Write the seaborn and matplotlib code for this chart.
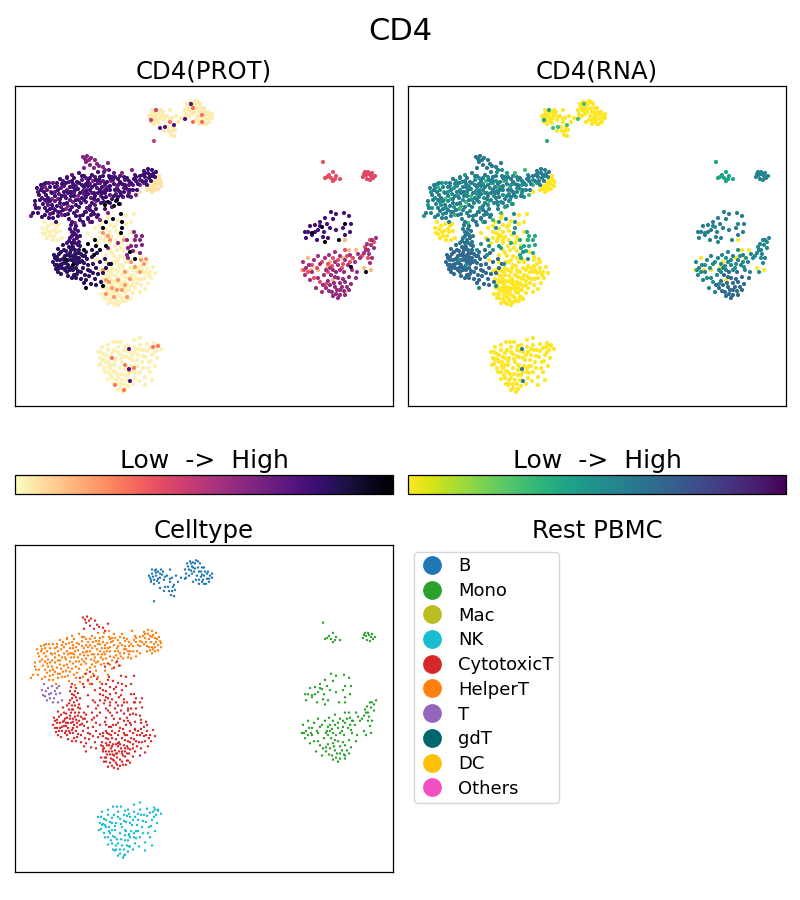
import matplotlib
matplotlib.use("Agg")
import matplotlib.pyplot as plt
from matplotlib.cm import ScalarMappable
from matplotlib.colors import Normalize
from matplotlib.lines import Line2D
import pandas as pd
import seaborn as sns

LEGEND_NAMES = ["B", "Mono", "Mac", "NK", "CytotoxicT", "HelperT", "T", "gdT", "DC", "Others"]
LEGEND_COLORS = ["#1f77b4", "#2ca02c", "#bcbd22", "#17becf", "#d62728", "#ff7f0e", "#9467bd", "#00666e", "#ffc107", "#f24fc2"]

# Embedding positions; (umap1, umap2) per cell group
B_PALE = [(150,118),(152,114),(154,120),(156,116),(158,112),(160,118),(162,115),(164,120),(157,121),(153,117),(159,123),(163,112),(167,116),(155,111),(161,110),(151,122),(170,110),(172,118),(176,116),(178,122),(172,131),(168,127),(164,131),(171,135),(175,130),(170,119),(181,118),(174,136),(186,114),(187,104),(190,102),(192,107),(195,104),(198,108),(194,112),(197,116),(189,110),(201,112),(204,116),(207,119),(210,116),(203,120),(206,124),(200,104),(204,108),(208,112),(212,114),(199,120),(196,101),(192,114),(188,107),(185,110),(199,124),(209,122),
          (149,116),(152,110),(156,113),(160,114),(154,124),(158,119),(165,117),(191,111),(195,109),(199,112),(202,108),(205,112),(209,119),(212,118),(201,117),(196,120),(204,124),(207,114),(193,103),(198,102),(186,118),(189,116),(169,131),(173,127)]
B_ORANGE = [(193,108),(202,115),(193,122),(202,122),(170,122)]
B_DARK = [(160,128),(174,125),(185,119),(191,104),(165,127)]
B_GREEN = [(154,141),(151,120),(156,110)]

HELPER_A = [(33,213),(36,208),(35,201),(39,195),(41,185),(46,183),(50,187),(44,192),(48,198),(43,204),(38,213),(42,217),(47,211),(52,205),(55,196),(58,190),(62,184),(60,179),(66,183),(70,187),(64,192),(60,199),(57,206),(53,213),(49,218),(58,216),(63,210),(67,203),(71,196),(75,190),(79,183),(74,178),(79,173),(84,176),(88,181),(84,187),(80,193),(76,200),(72,207),(68,214),(74,213),(79,207),(84,200),(88,194),(92,187),(96,180),(92,175),(98,172),(103,176),(107,182),(102,187),(98,193),(94,199),(90,206),(85,212),(91,215),(96,209),(101,203),(106,197),(110,190),(114,184),(112,177),(118,179),(122,184),(118,190),(114,196),(110,203),(116,201),(121,195),(126,188),(131,183),(127,178),(134,179),(138,184),(133,190),(128,196),(140,176),(144,171),(148,169),(152,170),(156,172),(150,175),(145,177),(151,181),(147,185),(142,181),(155,177),(88,219),(80,220),(69,219),(56,222),(98,215),(105,209),(103,198),(109,176),(73,184),(55,187),(52,193),(40,200),(37,188),(45,215),(64,204),(82,198),(94,193),(124,192),(137,190),(99,180),
            (41,190),(46,195),(50,201),(45,208),(50,209),(55,210),(60,203),(62,196),(68,193),(73,187),(77,182),(82,176),(86,184),(90,178),(95,185),(100,177),(105,184),(110,178),(115,177),(120,182),(124,177),(129,181),(136,181),(143,175),(148,173),(153,174),(149,178),(145,173),(66,198),(70,192),(74,196),(78,189),(82,185),(86,191),(90,190),(95,196),(100,190),(105,193),(110,186),(115,190),(120,192),(125,185),(130,190),(70,210),(76,205),(81,203),(86,197),(92,203),(98,200),(104,202),(112,199),(118,197),(93,212),(83,215),(76,216),(60,212),(53,218),(45,200),(67,178),(72,181),(57,183),(136,177),(152,176),(146,181),(107,190),(102,193),(88,186),(65,215)]
HELPER_B = [(38,192),(42,188),(47,190),(53,183),(57,186),(63,181),(67,177),(72,175),(76,186),(82,180),(86,178),(90,184),(95,177),(100,183),(104,172),(109,170),(114,173),(120,176),(125,180),(129,185),(135,175),(123,197),(112,207),(101,196),(95,205),(87,208),(77,211),(70,200),(61,207),(55,201),(48,205),(42,198),(35,205),(31,216),(39,208),(50,214),(65,196),(72,192),(83,191),(91,198),(104,191),(116,194),(131,197),(144,183),(110,195),(97,188),(86,202),(59,194),(67,190),
            (44,184),(49,183),(55,192),(61,188),(69,182),(74,193),(79,200),(84,194),(92,193),(98,183),(103,181),(108,187),(113,180),(118,185),(124,188),(129,193),(133,185),(140,180),(58,212),(53,208),(47,202),(64,186)]
HELPER_C = [(45,187),(51,192),(58,199),(66,209),(73,202),(62,215),(78,196),(87,190),(93,181),(105,187),(117,187),(128,190),(136,195),(120,204),(108,213),(100,220),(90,222),(75,223),(122,173),(132,170),(140,185),(52,199),(68,206),(96,201),(111,181)]
HELPER_END = [(152,186),(155,190),(158,184),(160,180),(157,178),(154,183),(150,189),(147,190),(158,189),(161,186),(152,192),(140,192),(156,181),(153,188),(149,186),(159,176),(161,182),(155,186)]

CYTO_TIP = [(83,157),(87,156),(91,158),(95,160),(86,162),(90,165),(94,168),(99,166),(103,167),(84,168),(108,163),(105,170),(85,159),(89,160),(97,164)]
CYTO_COLUMN = [(72,222),(76,226),(70,229),(74,233),(78,231),(72,236),(77,238),(69,241),(75,243),(80,236),(73,247),(67,243),(84,225),(88,218),(92,222),(86,212),(90,210),(94,214),(97,217),(80,216),(83,222),(79,242),(71,225),(75,229),(72,232),(76,235),(70,238),(74,240),(78,245)]
BLOB_A = [(53,262),(55,258),(57,265),(59,254),(60,260),(62,268),(64,250),(65,256),(66,263),(67,272),(69,247),(70,253),(71,260),(72,267),(74,275),(75,250),(76,257),(77,264),(78,271),(80,246),(81,254),(82,261),(83,268),(85,275),(86,252),(87,259),(88,265),(90,271),(92,257),(93,264),(95,279),(98,274),(101,282),(84,283),(76,278),(68,276),(61,274),(56,269),(58,249),(63,245),(72,243),(96,268),(100,262),(105,259),(109,264),(92,250),(97,253),(60,265),(63,259),(67,255),(74,262),(79,258),(83,256),(70,270),(76,268),(68,265),(73,256),(64,263),(66,268),(71,250),(78,253),(84,263),(89,276),(81,279),(91,284),(96,285),(106,268),(103,273),(55,265),(58,272),
         (54,255),(57,260),(61,252),(64,258),(68,260),(70,256),(73,259),(75,254),(77,260),(80,262),(62,264),(65,270),(69,268),(73,270),(77,274),(81,272),(59,268),(57,257),(66,251),(72,247),(79,250),(85,256),(88,270),(93,273),(86,280),(72,278)]
CYTO_BLACK = [(95,240),(103,228),(106,222),(113,219),(121,214),(119,204),(114,206),(108,202),(117,200),(105,205),(122,228),(121,233),(122,222),(100,250),(94,255),(106,246),(96,246),(130,252),(135,259),(88,244),(111,264),(84,250),(86,288),(103,286),(66,260),(73,265)]
CYTO_PALE = [(90,222),(95,228),(100,226),(106,229),(110,225),(116,231),(112,237),(106,235),(100,232),(93,238),(88,233),(98,243),(104,241),(110,243),(116,240),(122,243),(117,250),(110,250),(114,256),(120,256),(126,262),(120,265),(112,268),(106,262),(106,275),(112,275),(118,272),(124,270),(130,268),(135,266),(141,266),(147,268),(150,272),(144,273),(137,272),(131,275),(125,277),(119,279),(113,281),(107,282),(102,279),(103,288),(109,288),(115,287),(121,285),(127,283),(133,281),(139,279),(145,278),(151,278),(148,283),(141,285),(135,288),(129,290),(123,292),(117,294),(111,295),(105,294),(101,294),(110,299),(116,299),(122,298),(128,297),(133,293),(120,296),(113,291),(125,288),(118,283),(109,271),(100,271),(116,262),(130,260),(124,251),(128,246),(134,240),(131,232),(126,224),(118,221),(109,215),(126,215),(134,214),(131,222),(106,255),(96,260),(136,252),(141,257),(147,262),(153,267),(155,273),(110,279),(122,275),(140,292),(145,289),(128,278),(134,276),(116,276),(106,298),(112,302),(120,302),(103,283),(107,270),(113,262),(121,248),
            (104,285),(107,291),(111,285),(114,292),(116,290),(119,288),(122,288),(125,293),(127,290),(130,286),(133,285),(137,283),(110,291),(113,296),(117,301),(108,303),(114,304),(118,305),(123,301),(126,301),(130,299),(104,298),(106,288),(112,283),(116,281),(120,281),(124,282),(128,285),(108,276),(111,272),(115,270),(119,268),(123,266),(127,272),(133,270),(138,268),(142,270),(146,272),(149,275),(136,278),(142,279),(105,238),(110,232),(114,227),(119,235),(124,237),(102,222),(108,218),(116,225),(100,238),(115,246),(112,253),(118,260),(124,258)]
CYTO_ORANGE = [(103,270),(109,282),(118,280),(112,288),(122,290),(125,285),(127,297),(106,294),(114,297),(130,279),(135,267),(141,260),(146,259),(144,264),(131,262),(103,233),(108,236),(110,240),(124,240),(140,272),(125,272),(117,290),(106,280)]
CYTO_PURPLE = [(131,246),(135,240),(140,240),(142,245),(136,246),(140,253),(133,251),(127,240),(128,248),(136,236),(127,255),(142,236),(134,232),(118,243),(108,248),(128,258)]

NK_PALE = [(98,352),(100,358),(102,347),(104,354),(106,362),(108,350),(110,357),(112,365),(114,350),(116,358),(118,347),(120,354),(122,362),(124,350),(126,357),(128,345),(130,352),(132,360),(134,347),(136,366),(138,355),(140,345),(142,362),(144,350),(146,357),(148,368),(150,348),(152,355),(154,343),(156,350),(158,345),(161,349),(134,340),(140,338),(104,368),(108,372),(112,378),(116,384),(120,388),(124,384),(110,368),(115,372),(120,368),(125,375),(130,372),(135,378),(140,372),(145,377),(150,372),(155,366),(118,378),(123,392),(128,386),(133,384),(126,366),(131,366),(113,384),(118,390),(139,381),(143,368),(105,360),(113,342),(121,342),(99,365),(147,344),(157,358),(152,380),(137,360),(145,385),(127,380),(115,365),(135,352),(141,350),(149,362),(108,379),(102,360),
          (101,352),(103,359),(106,355),(109,362),(112,353),(115,361),(118,352),(121,359),(124,356),(127,351),(130,358),(133,355),(101,364),(105,372),(109,366),(113,371),(117,374),(121,374),(125,370),(128,375),(122,380),(116,380),(111,375),(120,384),(125,389),(129,381),(134,372),(138,366),(143,356),(147,351),(151,361),(154,352),(155,345),(108,345),(117,342),(125,346),(138,349),(136,373)]
NK_SPECK = [(112,358),(125,365),(129,370),(134,368),(115,385),(124,390),(153,347),(158,346)]
NK_DARK = [(129,349),(129,369),(130,381)]

MONO_LOW = [(334,283),(338,278),(332,292),(337,290),(342,287),(345,282),(328,281),(331,275),(340,295),(345,295),(349,290),(351,284),(336,272),(344,272),(349,277),(356,278),(326,288),(338,298),(330,285),(340,283),(335,287),(340,290),(344,291),(347,287),(333,296),(329,291),(323,285),(336,294),(343,279),(335,277)]
MONO_UPPER = [(305,232),(310,226),(315,225),(320,222),(325,218),(331,212),(336,214),(344,213),(349,216),(306,238),(312,235),(318,230),(324,232),(330,228),(323,237),(317,240),(328,238),(336,230),(343,228),(351,224),(350,232),(345,235),(308,232),(315,232),(320,226),(327,224),(333,219)]
MONO_BLACK = [(312,233),(325,242),(339,240),(345,224),(351,267),(322,227),(366,272)]
MONO_MID = [(303,262),(306,268),(309,265),(314,260),(320,264),(325,258),(330,268),(335,262),(340,256),(345,260),(350,255),(355,262),(360,258),(364,253),(368,250),(371,245),(376,238),(372,240),(367,244),(366,250),(369,254),(372,258),(305,275),(312,272),(318,278),(324,275),(329,255),(338,265),(352,270),(358,254),(348,265),(335,252),(318,256),(310,280),(316,288),(322,292),(326,270),(333,270),(340,270),(357,272),(374,248),(370,263)]
MONO_RED = [(312,265),(317,268),(322,262),(328,264),(333,258),(338,260),(343,264),(347,256),(353,258),(362,256),(365,247),(370,240),(374,242),(308,272),(314,278),(320,282),(326,284),(332,266),(345,250),(350,262),(342,268),(304,270),(368,258),(328,272)]
MONO_PALE = [(308,258),(311,270),(318,270),(330,262),(343,258),(349,250),(352,258),(356,250),(364,268),(345,240),(327,268),(345,292),(333,280),(302,270),(371,270)]
MONO_SMALL_A = [(323,162),(325,178),(329,175),(333,181),(336,176),(340,179),(333,172),(327,177),(331,178),(335,179)]
MONO_SMALL_B = [(363,177),(365,172),(367,179),(369,174),(371,176),(373,178),(375,176),(368,172),(370,180),(366,175),(364,174),(372,173)]

T_PALE = [(42,228),(45,234),(48,226),(51,231),(54,236),(57,226),(47,238),(60,231),(44,222),(52,224),(56,232),(49,232),(62,238),(58,240),(53,240),(59,224),(43,233),(46,229),(50,236),(55,229)]

# Per-group attributes: cell type, protein level and RNA level
GROUP_POINTS = [T_PALE, CYTO_PALE, NK_PALE, B_PALE, HELPER_END, MONO_PALE, CYTO_ORANGE, B_ORANGE, MONO_SMALL_A, MONO_SMALL_B, NK_SPECK, MONO_RED, MONO_MID, MONO_UPPER, MONO_LOW, CYTO_PURPLE, CYTO_TIP, HELPER_C, HELPER_B, HELPER_A, CYTO_COLUMN, BLOB_A, B_GREEN, NK_DARK, B_DARK, MONO_BLACK, CYTO_BLACK]
GROUP_TYPES = ["T", "CytotoxicT", "NK", "B", "HelperT", "Mono", "CytotoxicT", "B", "Mono", "Mono", "NK", "Mono", "Mono", "Mono", "Mono", "CytotoxicT", "CytotoxicT", "HelperT", "HelperT", "HelperT", "CytotoxicT", "CytotoxicT", "B", "NK", "B", "Mono", "CytotoxicT"]
GROUP_PROT = [0.03, 0.03, 0.03, 0.04, 0.06, 0.15, 0.22, 0.3, 0.38, 0.4, 0.28, 0.38, 0.55, 0.78, 0.58, 0.62, 0.62, 0.62, 0.72, 0.8, 0.78, 0.83, 0.45, 0.72, 0.75, 0.95, 0.97]
GROUP_RNA = [0.0, 0.0, 0.0, 0.0, 0.0, 0.0, 0.0, 0.0, 0.42, 0.55, 0.0, 0.5, 0.55, 0.58, 0.66, 0.4, 0.6, 0.32, 0.48, 0.58, 0.6, 0.66, 0.4, 0.55, 0.3, 0.52, 0.5]

rows = []
for points, cell, prot, rna in zip(GROUP_POINTS, GROUP_TYPES, GROUP_PROT, GROUP_RNA):
    for u1, u2 in points:
        rows.append(dict(umap1=u1, umap2=u2, celltype=cell, prot=prot, rna=rna))
df = pd.DataFrame(rows)

sns.set_style("white")
plt.rcParams["font.family"] = ["DejaVu Sans"]
plt.rcParams["text.color"] = "black"
plt.rcParams["axes.labelcolor"] = "black"
W, H = 800, 900
fig = plt.figure(figsize=(8, 9), dpi=100)

def box(x0, y0, x1, y1):
    return fig.add_axes([x0 / W, 1 - y1 / H, (x1 - x0) / W, (y1 - y0) / H])

ax1 = box(15, 86, 393, 406)
ax2 = box(408, 86, 786, 406)
cax1 = box(15, 475, 393, 494)
cax2 = box(408, 475, 786, 494)
ax3 = box(15, 545, 393, 872)
ax4 = box(408, 545, 786, 872)

sns.scatterplot(data=df, x="umap1", y="umap2", hue="prot", palette="magma_r", hue_norm=(0, 1),
                s=9, linewidth=0, legend=False, ax=ax1)
sns.scatterplot(data=df, x="umap1", y="umap2", hue="rna", palette="viridis_r", hue_norm=(0, 1),
                s=9, linewidth=0, legend=False, ax=ax2)
palette = dict(zip(LEGEND_NAMES, LEGEND_COLORS))
sns.scatterplot(data=df, x="umap1", y="umap2", hue="celltype", palette=palette,
                s=3, linewidth=0, legend=False, ax=ax3)

for ax, title in [(ax1, "CD4(PROT)"), (ax2, "CD4(RNA)"), (ax3, "Celltype")]:
    ax.set_xlim(15, 393)
    ax.set_ylim(406, 86)
    ax.set(xticks=[], yticks=[], xlabel="", ylabel="")
    ax.set_title(title, fontsize=17.6, pad=5.2, color="black")
    for s in ax.spines.values():
        s.set_color("black")
        s.set_linewidth(0.9)

for cax, cmap in [(cax1, "magma_r"), (cax2, "viridis_r")]:
    cb = fig.colorbar(ScalarMappable(norm=Normalize(0, 1), cmap=cmap), cax=cax, orientation="horizontal")
    cb.set_ticks([])
    cb.outline.set_linewidth(0.9)
    cb.outline.set_edgecolor("black")
    cax.set_title("Low  ->  High", fontsize=18, pad=5.2, color="black")

ax4.axis("off")
ax4.set_title("Rest PBMC", fontsize=17.6, pad=5.2, color="black")
handles = [Line2D([], [], marker="o", linestyle="", color=c, markersize=12.5, label=n)
           for n, c in zip(LEGEND_NAMES, LEGEND_COLORS)]
leg = ax4.legend(handles=handles, loc="upper left", bbox_to_anchor=(6 / 378, 1 - 7 / 327),
                 borderaxespad=0, fontsize=13, frameon=True, labelspacing=0.37,
                 handlelength=1.4, handletextpad=0.75, borderpad=0.3, labelcolor="black")

fig.text(0.5, 1 - 31 / H, "CD4", fontsize=22, ha="center", va="center", color="black")
fig.savefig("out.png", dpi=100)
